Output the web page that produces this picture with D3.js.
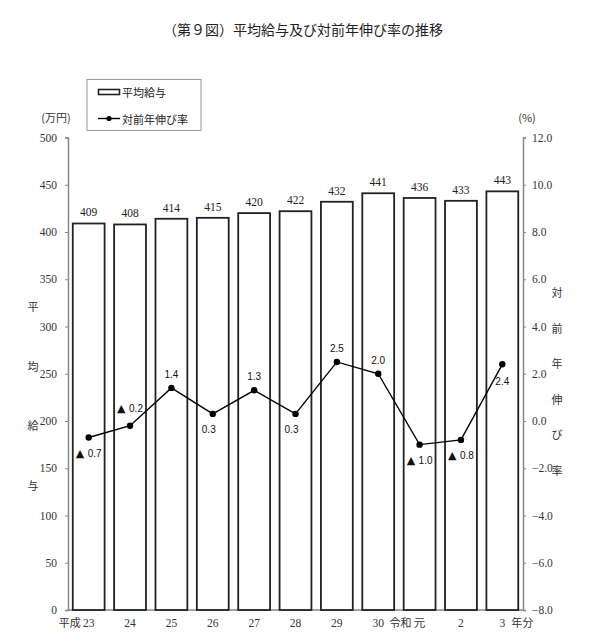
<!DOCTYPE html>
<html>
<head>
<meta charset="utf-8">
<script src="https://cdn.jsdelivr.net/npm/d3@7"></script>
<style>
  body { margin: 0; background: #fff; }
  svg { display: block; }
</style>
</head>
<body>
<div id="chart"></div>
<script>
// data
const years = ["23", "24", "25", "26", "27", "28", "29", "30", "元", "2", "3"];
const eras = ["平成", "", "", "", "", "", "", "", "令和", "", ""];
const avgPay = [409, 408, 414, 415, 420, 422, 432, 441, 436, 433, 443];
const growth = [-0.7, -0.2, 1.4, 0.3, 1.3, 0.3, 2.5, 2.0, -1.0, -0.8, 2.4];
// where each rate label sits next to its point
const labelSide = ["below", "above", "above", "below", "above", "below", "above", "above", "below", "below", "below"];
const leftTicks = [0, 50, 100, 150, 200, 250, 300, 350, 400, 450, 500];
const rightTicks = [-8, -6, -4, -2, 0, 2, 4, 6, 8, 10, 12];

const width = 602, height = 641;
const margin = { top: 137.5, right: 79, bottom: 31, left: 68 };
const serif = "'Liberation Serif', 'DejaVu Serif', 'Noto Sans CJK JP', serif";
const jp = "'Noto Sans CJK JP', sans-serif";
const sans = "'Liberation Sans', Arial, sans-serif";

const svg = d3.select("#chart").append("svg")
    .attr("width", width)
    .attr("height", height);

const x = d3.scaleBand()
    .domain(d3.range(years.length))
    .range([margin.left, width - margin.right])
    .paddingInner(0.23)
    .paddingOuter(0.115);

const yL = d3.scaleLinear().domain([0, 500]).range([height - margin.bottom, margin.top]);
const yR = d3.scaleLinear().domain([-8, 12]).range([height - margin.bottom, margin.top]);

// title
svg.append("text")
    .attr("x", 303)
    .attr("y", 35)
    .attr("text-anchor", "middle")
    .style("font-family", jp)
    .style("font-size", "14px")
    .style("fill", "#222")
    .text("（第９図）平均給与及び対前年伸び率の推移");

// axes
const left = svg.append("g")
    .attr("transform", "translate(" + margin.left + ",0)")
    .call(d3.axisLeft(yL).tickValues(leftTicks).tickSize(3).tickPadding(8).tickFormat(d3.format("d")));
const right = svg.append("g")
    .attr("transform", "translate(" + (width - margin.right) + ",0)")
    .call(d3.axisRight(yR).tickValues(rightTicks).tickSize(3).tickPadding(6).tickFormat(d3.format(".1f")));

[left, right].forEach(function (g) {
    g.select(".domain").attr("stroke", "#888").attr("stroke-width", 1.5);
    g.selectAll(".tick line").attr("stroke", "#888");
    g.selectAll(".tick text")
        .style("font-family", serif)
        .style("font-size", "11.5px")
        .attr("fill", "#333");
});

// baseline
svg.append("line")
    .attr("x1", margin.left).attr("x2", width - margin.right)
    .attr("y1", yL(0)).attr("y2", yL(0))
    .attr("stroke", "#888")
    .attr("stroke-width", 1.5);

// bars
svg.append("g")
    .selectAll("rect")
    .data(avgPay)
    .enter().append("rect")
    .attr("x", (d, i) => x(i))
    .attr("y", d => yL(d))
    .attr("width", x.bandwidth())
    .attr("height", d => yL(0) - yL(d))
    .attr("fill", "#fff")
    .attr("stroke", "#222")
    .attr("stroke-width", 1.8);

svg.append("g")
    .selectAll("text")
    .data(avgPay)
    .enter().append("text")
    .attr("x", (d, i) => x(i) + x.bandwidth() / 2)
    .attr("y", d => yL(d) - 7)
    .attr("text-anchor", "middle")
    .style("font-family", serif)
    .style("font-size", "11.5px")
    .attr("fill", "#222")
    .text(d => d);

// growth line
const line = d3.line()
    .x((d, i) => x(i) + x.bandwidth() / 2)
    .y(d => yR(d));

svg.append("path")
    .datum(growth)
    .attr("d", line)
    .attr("fill", "none")
    .attr("stroke", "#000")
    .attr("stroke-width", 1.4);

svg.append("g")
    .selectAll("circle")
    .data(growth)
    .enter().append("circle")
    .attr("cx", (d, i) => x(i) + x.bandwidth() / 2)
    .attr("cy", d => yR(d))
    .attr("r", 3.2)
    .attr("fill", "#000");

// negative labels with a triangle get a bit more room from the point
const rateLabels = svg.append("g")
    .selectAll("text")
    .data(growth)
    .enter().append("text")
    .attr("x", (d, i) => x(i) + x.bandwidth() / 2 + (labelSide[i] === "below" && d > 0 && i < 6 ? -4 : 0))
    .attr("y", (d, i) => yR(d) + (labelSide[i] === "above" ? (d < 0 ? -18 : -14) : (i === growth.length - 1 ? 17 : 15)))
    .attr("text-anchor", "middle")
    .attr("dominant-baseline", "central")
    .style("font-family", sans)
    .style("font-size", "10px")
    .attr("fill", "#111");

rateLabels.filter(d => d < 0).append("tspan")
    .style("font-family", "'DejaVu Sans', sans-serif")
    .style("font-size", "11px")
    .text("▲ ");
rateLabels.append("tspan")
    .text(d => d3.format(".1f")(Math.abs(d)));

// x labels
const xl = svg.append("g");
xl.selectAll(".yr")
    .data(years)
    .enter().append("text")
    .attr("class", "yr")
    .attr("x", (d, i) => x(i) + x.bandwidth() / 2)
    .attr("y", 627)
    .attr("text-anchor", "middle")
    .style("font-family", serif)
    .style("font-size", "11.5px")
    .attr("fill", "#333")
    .text(d => d);
xl.selectAll(".era")
    .data(eras)
    .enter().append("text")
    .attr("class", "era")
    .attr("x", (d, i) => x(i) + x.bandwidth() / 2 - 8)
    .attr("y", 627)
    .attr("text-anchor", "end")
    .style("font-family", jp)
    .style("font-size", "11px")
    .attr("fill", "#333")
    .text(d => d);
xl.append("text")
    .attr("x", x(years.length - 1) + x.bandwidth() / 2 + 9)
    .attr("y", 627)
    .style("font-family", jp)
    .style("font-size", "11px")
    .attr("fill", "#333")
    .text("年分");

// axis titles
svg.append("text")
    .attr("x", 56).attr("y", 122)
    .attr("text-anchor", "middle")
    .style("font-family", jp)
    .style("font-size", "11px")
    .attr("fill", "#333")
    .text("(万円)");
svg.append("text")
    .attr("x", 527).attr("y", 122)
    .attr("text-anchor", "middle")
    .style("font-family", jp)
    .style("font-size", "11px")
    .attr("fill", "#333")
    .text("(%)");

svg.append("g")
    .selectAll("text")
    .data("平均給与".split(""))
    .enter().append("text")
    .attr("x", 33)
    .attr("y", (d, i) => 306 + i * 59.7)
    .attr("text-anchor", "middle")
    .attr("dominant-baseline", "central")
    .style("font-family", jp)
    .style("font-size", "11px")
    .attr("fill", "#333")
    .text(d => d);

svg.append("g")
    .selectAll("text")
    .data("対前年伸び率".split(""))
    .enter().append("text")
    .attr("x", 557)
    .attr("y", (d, i) => 292 + i * 35.6)
    .attr("text-anchor", "middle")
    .attr("dominant-baseline", "central")
    .style("font-family", jp)
    .style("font-size", "11px")
    .attr("fill", "#333")
    .text(d => d);

// legend
const legend = svg.append("g");
legend.append("rect")
    .attr("x", 87).attr("y", 79.5)
    .attr("width", 114).attr("height", 51)
    .attr("fill", "#fff")
    .attr("stroke", "#999")
    .attr("stroke-width", 1);
legend.append("rect")
    .attr("x", 98.5).attr("y", 89.5)
    .attr("width", 21).attr("height", 5)
    .attr("fill", "#fff")
    .attr("stroke", "#222")
    .attr("stroke-width", 1.6);
legend.append("line")
    .attr("x1", 98).attr("x2", 120)
    .attr("y1", 118.5).attr("y2", 118.5)
    .attr("stroke", "#000")
    .attr("stroke-width", 1.4);
legend.append("circle")
    .attr("cx", 109).attr("cy", 118.5)
    .attr("r", 2.6)
    .attr("fill", "#000");
legend.selectAll(".lt")
    .data(["平均給与", "対前年伸び率"])
    .enter().append("text")
    .attr("class", "lt")
    .attr("x", 122)
    .attr("y", (d, i) => 92 + i * 26.5)
    .attr("dominant-baseline", "central")
    .style("font-family", jp)
    .style("font-size", "11px")
    .attr("fill", "#222")
    .text(d => d);
</script>
</body>
</html>
